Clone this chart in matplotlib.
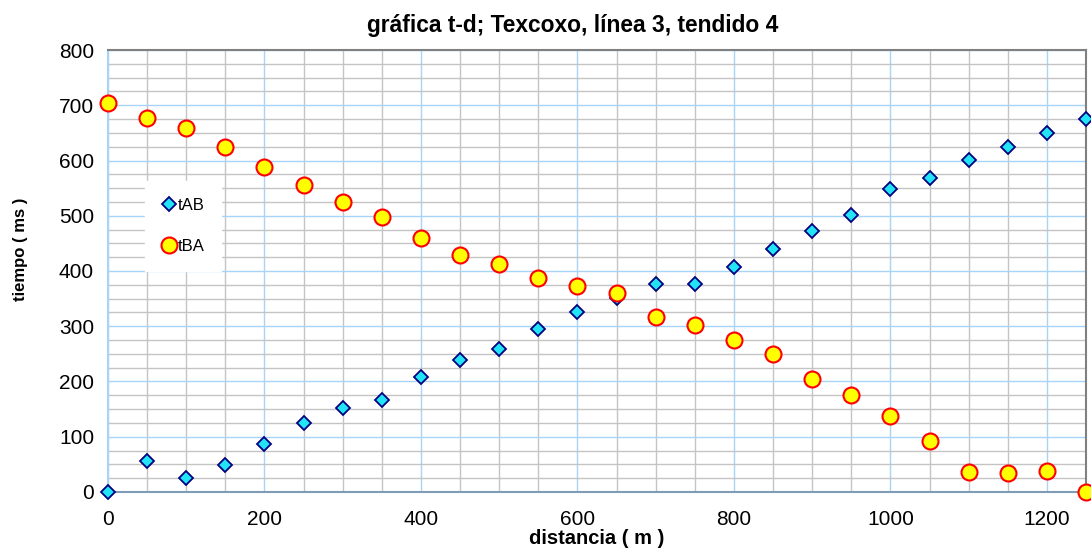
import matplotlib.pyplot as plt
from matplotlib.ticker import MultipleLocator

plt.rcParams['font.family'] = ['Liberation Sans', 'DejaVu Sans']

# distancia (m) y tiempos de llegada (ms)
distancia = [0, 50, 100, 150, 200, 250, 300, 350, 400, 450, 500, 550, 600,
             650, 700, 750, 800, 850, 900, 950, 1000, 1050, 1100, 1150, 1200, 1250]
tAB = [0, 56, 25, 49, 87, 125, 152, 167, 208, 239, 259, 295, 326,
       351, 376, 377, 407, 440, 472, 501, 548, 568, 601, 624, 650, 675]
tBA = [704, 677, 659, 624, 588, 556, 525, 498, 460, 429, 413, 387, 373,
       360, 317, 302, 275, 250, 205, 176, 138, 92, 36, 34, 38, 0]

fig = plt.figure(figsize=(10.91, 5.54), dpi=100)
ax = fig.add_axes([0.099, 0.112, 0.8964, 0.7977])

ax.plot(distancia, tAB, linestyle='none', marker='D', markersize=7.5,
        markerfacecolor='#22e4f4', markeredgecolor='#000080', markeredgewidth=1.3,
        label='tAB', clip_on=False, zorder=3)
ax.plot(distancia, tBA, linestyle='none', marker='o', markersize=11.5,
        markerfacecolor='#ffff00', markeredgecolor='#ff0000', markeredgewidth=1.5,
        label='tBA', clip_on=False, zorder=4)

ax.set_xlim(0, 1250)
ax.set_ylim(0, 800)
ax.xaxis.set_major_locator(MultipleLocator(200))
ax.xaxis.set_minor_locator(MultipleLocator(50))
ax.yaxis.set_major_locator(MultipleLocator(100))
ax.yaxis.set_minor_locator(MultipleLocator(25))

# rejilla: mayor azul claro, menor gris
ax.grid(which='minor', color='#c4c4c4', linewidth=1.0)
ax.grid(which='major', color='#a8d4f8', linewidth=1.0)
ax.set_axisbelow(True)

ax.tick_params(which='both', length=0, labelsize=15)
ax.tick_params(axis='y', pad=10)
ax.tick_params(axis='x', pad=13)

ax.spines['top'].set_color('#808080')
ax.spines['right'].set_color('#808080')
ax.spines['left'].set_color('#a8d4f8')
ax.spines['bottom'].set_color('#7f9bb5')
for s in ax.spines.values():
    s.set_linewidth(1.5)

ax.set_title('gráfica t-d; Texcoxo, línea 3, tendido 4', fontsize=16.4,
             fontweight='bold', pad=13, x=0.475)
ax.set_xlabel('distancia ( m )', fontsize=14.5, fontweight='bold', labelpad=0)
ax.set_ylabel('tiempo ( ms )', fontsize=12, fontweight='bold')
ax.yaxis.set_label_coords(-0.082, 0.55)

leg = ax.legend(loc='upper left', bbox_to_anchor=(0.038, 0.704), fontsize=12,
                frameon=True, fancybox=False, framealpha=1, edgecolor='white',
                handlelength=0.8, handletextpad=0.15, labelspacing=1.6,
                borderpad=1.0, borderaxespad=0)

fig.savefig('out.png', dpi=100)
